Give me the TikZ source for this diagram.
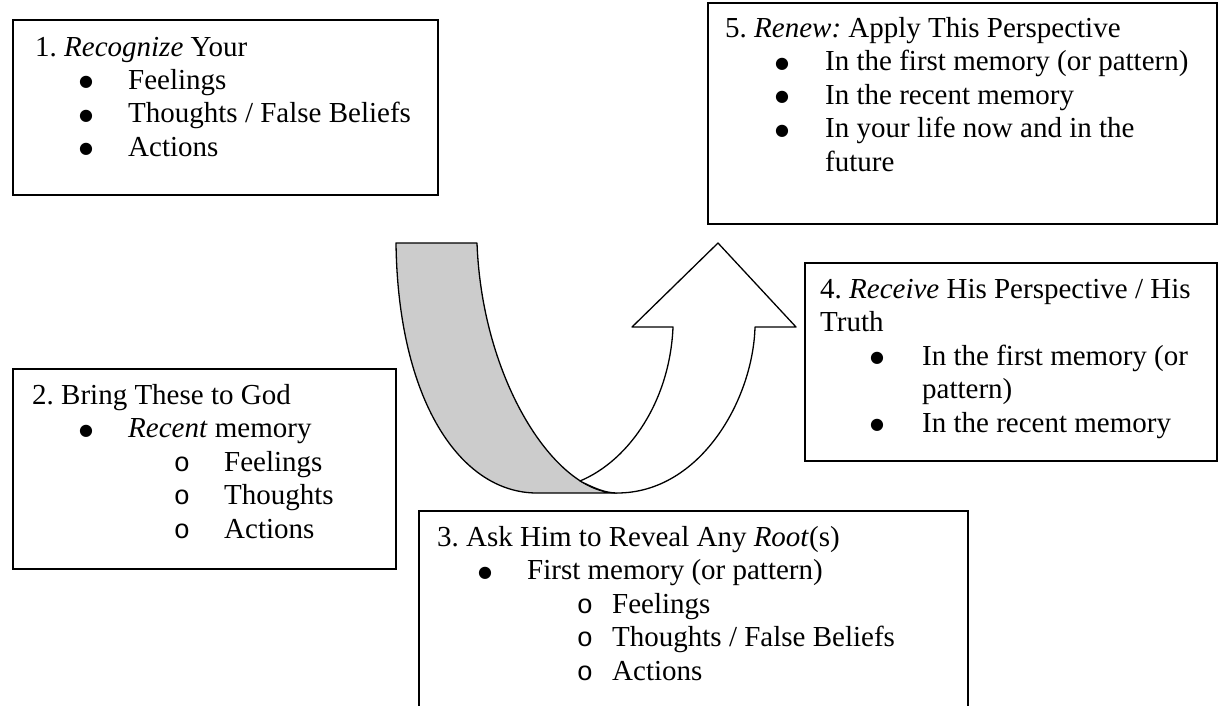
\documentclass[tikz,border=0pt]{standalone}
\usepackage{fontspec}
\setmainfont{Liberation Serif}
\newfontfamily\monof{Liberation Mono}
\newfontfamily\dvs{DejaVu Sans}
\frenchspacing
\tikzset{
  box/.style={draw, line width=1.6pt, rectangle, inner sep=0pt, anchor=north west},
  txt/.style={anchor=base west, inner sep=0pt, font=\fontsize{29}{33.5}\selectfont},
  bul/.style={anchor=base, inner sep=0pt, yshift=2.5pt, font=\fontsize{16}{18}\dvs},
  sbul/.style={anchor=base, inner sep=0pt, font=\fontsize{27}{33.5}\monof},
  band/.style={draw, line width=1.3pt, line join=round},
}
\begin{document}
\begin{tikzpicture}[x=1pt, y=-1pt]
\useasboundingbox (0,0) rectangle (1222,705);
\clip (0,0) rectangle (1222,705);

% ---- boxes ----
\node[box, minimum width=425pt, minimum height=175pt] (b1) at (12,19) {};
\node[box, minimum width=509pt, minimum height=221pt] (b5) at (707,2) {};
\node[box, minimum width=412pt, minimum height=198pt] (b4) at (804,262) {};
\node[box, minimum width=383pt, minimum height=200pt] (b2) at (12,368) {};
\node[box, minimum width=549pt, minimum height=240pt] (b3) at (418,510) {};

% ---- U-turn arrow ----
\coordinate (tl) at (396,243);
\coordinate (tr) at (477,243);
\coordinate (bl) at (537,493);
\coordinate (br) at (617,493);
\coordinate (mx) at (580,481);
\coordinate (hi) at (673,327);
\coordinate (ho) at (755,327);
\coordinate (hl) at (632,327);
\coordinate (hr) at (796,327);
\coordinate (tip) at (718,243);

\path[band, fill=black!20] (tl) -- (tr) .. controls (482,380) and (555,493) .. (br)
  -- (bl) .. controls (460,493) and (398,400) .. (tl) -- cycle;
\path[band, fill=white] (br) .. controls (700,493) and (753,400) .. (ho)
  -- (hr) -- (tip) -- (hl) -- (hi) .. controls (670,400) and (630,460) .. (mx)
  .. controls (594,488) and (605,493) .. (br) -- cycle;

% ---- box 1 ----
\node[txt] (t1a) at (35,56) {1. \textit{Recognize} Your};
\node[bul] (u1b) at (86,89) {●};
\node[txt] (t1b) at (128,89) {Feelings};
\node[bul] (u1c) at (86,122.5) {●};
\node[txt] (t1c) at (128,122.5) {Thoughts / False Beliefs};
\node[bul] (u1d) at (86,156) {●};
\node[txt] (t1d) at (128,156) {Actions};

% ---- box 5 ----
\node[txt] (t5a) at (725,37) {5. \textit{Renew:} Apply This Perspective};
\node[bul] (u5b) at (782,70.5) {●};
\node[txt] (t5b) at (825,70.5) {In the first memory (or pattern)};
\node[bul] (u5c) at (782,104) {●};
\node[txt] (t5c) at (825,104) {In the recent memory};
\node[bul] (u5d) at (782,137.5) {●};
\node[txt] (t5d) at (825,137.5) {In your life now and in the};
\node[txt] (t5e) at (825,171) {future};

% ---- box 4 ----
\node[txt] (t4a) at (820,298) {4. \textit{Receive} His Perspective / His};
\node[txt] (t4b) at (820,331.5) {Truth};
\node[bul] (u4c) at (877,365) {●};
\node[txt] (t4c) at (922,365) {In the first memory (or};
\node[txt] (t4d) at (922,398.5) {pattern)};
\node[bul] (u4e) at (877,432) {●};
\node[txt] (t4e) at (922,432) {In the recent memory};

% ---- box 2 ----
\node[txt] (t2a) at (32,404) {2. Bring These to God};
\node[bul] (u2b) at (86,437.5) {●};
\node[txt] (t2b) at (128,437.5) {\textit{Recent} memory};
\node[sbul] (u2c) at (182,471) {o};
\node[txt] (t2c) at (224,471) {Feelings};
\node[sbul] (u2d) at (182,504.5) {o};
\node[txt] (t2d) at (224,504.5) {Thoughts};
\node[sbul] (u2e) at (182,538) {o};
\node[txt] (t2e) at (224,538) {Actions};

% ---- box 3 ----
\node[txt] (t3a) at (437,546) {3. Ask Him to Reveal Any \textit{Root}(s)};
\node[bul] (u3b) at (485,579.5) {●};
\node[txt] (t3b) at (527,579.5) {First memory (or pattern)};
\node[sbul] (u3c) at (585,613) {o};
\node[txt] (t3c) at (612,613) {Feelings};
\node[sbul] (u3d) at (585,646.5) {o};
\node[txt] (t3d) at (612,646.5) {Thoughts / False Beliefs};
\node[sbul] (u3e) at (585,680) {o};
\node[txt] (t3e) at (612,680) {Actions};
\end{tikzpicture}
\end{document}
